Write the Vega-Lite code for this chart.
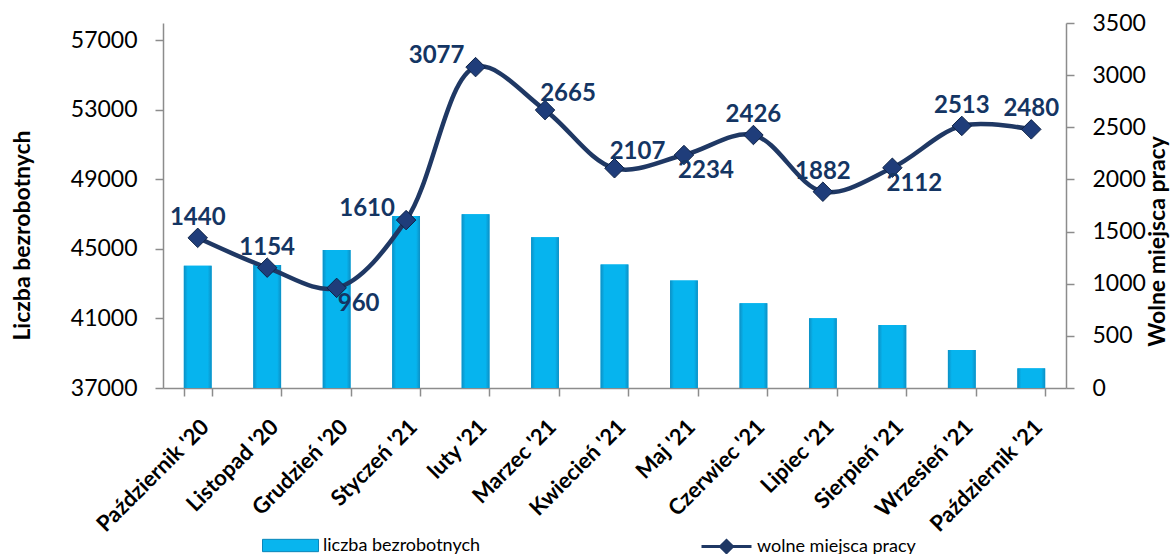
{
  "$schema": "https://vega.github.io/schema/vega-lite/v6.json",
  "autosize": {"type": "none"},
  "width": 903,
  "height": 365,
  "padding": {"left": 163, "top": 23, "right": 104, "bottom": 166},
  "background": "white",
  "config": {
    "font": "Lato",
    "view": {"stroke": null},
    "axis": {
      "domainColor": "#8C8C8C",
      "domainWidth": 1.5,
      "tickColor": "#8C8C8C",
      "tickWidth": 1.5,
      "tickSize": 8,
      "labelColor": "#000000",
      "titleColor": "#000000",
      "grid": false
    }
  },
  "data": {
    "values": [
      {"month": "Październik '20", "unemployed": 44040, "vacancies": 1440},
      {"month": "Listopad '20", "unemployed": 44080, "vacancies": 1154},
      {"month": "Grudzień '20", "unemployed": 44940, "vacancies": 960},
      {"month": "Styczeń '21", "unemployed": 46900, "vacancies": 1610},
      {"month": "luty '21", "unemployed": 47000, "vacancies": 3077},
      {"month": "Marzec '21", "unemployed": 45670, "vacancies": 2665},
      {"month": "Kwiecień '21", "unemployed": 44110, "vacancies": 2107},
      {"month": "Maj '21", "unemployed": 43190, "vacancies": 2234},
      {"month": "Czerwiec '21", "unemployed": 41870, "vacancies": 2426},
      {"month": "Lipiec '21", "unemployed": 41010, "vacancies": 1882},
      {"month": "Sierpień '21", "unemployed": 40620, "vacancies": 2112},
      {"month": "Wrzesień '21", "unemployed": 39190, "vacancies": 2513},
      {"month": "Październik '21", "unemployed": 38130, "vacancies": 2480}
    ]
  },
  "encoding": {
    "x": {
      "field": "month",
      "type": "nominal",
      "sort": null,
      "scale": {"paddingInner": 0.6, "paddingOuter": 0.3},
      "axis": {
        "title": null,
        "labelAngle": -45,
        "labelFontSize": 22,
        "labelFontWeight": "bold",
        "labelPadding": 20,
        "tickBand": "extent"
      }
    }
  },
  "layer": [
    {
      "encoding": {
        "y": {
          "field": "unemployed",
          "type": "quantitative",
          "scale": {"domain": [37000, 58000], "zero": false, "nice": false},
          "axis": {
            "orient": "left",
            "values": [37000, 41000, 45000, 49000, 53000, 57000],
            "format": "d",
            "labelFontSize": 23,
            "labelPadding": 18,
            "title": "Liczba bezrobotnych",
            "titleFontSize": 23,
            "titleFontWeight": "bold",
            "titleAngle": -90,
            "titleX": -141,
            "titleY": 212,
            "titleAlign": "center",
            "titleBaseline": "middle"
          }
        },
        "y2": {"datum": 37000}
      },
      "layer": [
        {
          "mark": {"type": "bar"},
          "encoding": {
            "fill": {
              "datum": "liczba bezrobotnych",
              "scale": {"range": ["#08B5EE"]},
              "legend": {
                "orient": "none",
                "legendX": 99,
                "legendY": 494,
                "title": null,
                "padding": 0,
                "symbolType": "M-1,-0.22H1V0.22H-1Z",
                "symbolSize": 3136,
                "symbolStrokeColor": "#0A86BA",
                "symbolStrokeWidth": 1,
                "labelFontSize": 18,
                "labelColor": "#000000",
                "labelOffset": 4
              }
            }
          }
        },
        {
          "mark": {
            "type": "bar",
            "fill": {
              "gradient": "linear",
              "x1": 0, "y1": 0, "x2": 1, "y2": 0,
              "stops": [
                {"offset": 0, "color": "#0D8FC4"},
                {"offset": 0.14, "color": "#06B4EE"},
                {"offset": 0.86, "color": "#06B4EE"},
                {"offset": 1, "color": "#0D8FC4"}
              ]
            }
          }
        }
      ]
    },
    {
      "encoding": {
        "y": {
          "field": "vacancies",
          "type": "quantitative",
          "scale": {"domain": [0, 3500], "nice": false},
          "axis": {
            "orient": "right",
            "values": [0, 500, 1000, 1500, 2000, 2500, 3000, 3500],
            "format": "d",
            "labelFontSize": 23,
            "labelPadding": 18,
            "title": "Wolne miejsca pracy",
            "titleFontSize": 23,
            "titleFontWeight": "bold",
            "titleAngle": -90,
            "titleX": 91,
            "titleY": 218,
            "titleAlign": "center",
            "titleBaseline": "middle"
          }
        }
      },
      "layer": [
        {
          "mark": {"type": "line", "interpolate": "catmull-rom", "strokeWidth": 4.5},
          "encoding": {
            "stroke": {
              "datum": "wolne miejsca pracy",
              "scale": {"range": ["#1F3864"]},
              "legend": {
                "orient": "none",
                "legendX": 537,
                "legendY": 497,
                "title": null,
                "padding": 0,
                "symbolType": "M-1,0H1M-0.24,0L0,-0.24L0.24,0L0,0.24Z",
                "symbolSize": 2500,
                "symbolStrokeWidth": 3,
                "symbolFillColor": "#1F3864",
                "labelFontSize": 18,
                "labelColor": "#000000",
                "labelOffset": 4
              }
            }
          }
        },
        {
          "mark": {"type": "point", "shape": "diamond", "size": 380, "filled": true, "fill": "#1F3D7A", "stroke": "#0E2346", "strokeWidth": 1, "opacity": 1}
        },
        {
          "transform": [{"filter": {"field": "month", "oneOf": ["Październik '20", "Listopad '20", "Czerwiec '21", "Lipiec '21", "Wrzesień '21", "Październik '21"]}}],
          "mark": {"type": "text", "fontSize": 24, "fontWeight": "bold", "fill": "#143563", "dx": 0, "dy": -20, "align": "center", "baseline": "middle"},
          "encoding": {"text": {"field": "vacancies", "type": "quantitative", "format": "d"}}
        },
        {
          "transform": [{"filter": {"field": "month", "oneOf": ["Styczeń '21", "luty '21"]}}],
          "mark": {"type": "text", "fontSize": 24, "fontWeight": "bold", "fill": "#143563", "dx": -39, "dy": -11, "align": "center", "baseline": "middle"},
          "encoding": {"text": {"field": "vacancies", "type": "quantitative", "format": "d"}}
        },
        {
          "transform": [{"filter": {"field": "month", "oneOf": ["Marzec '21", "Kwiecień '21"]}}],
          "mark": {"type": "text", "fontSize": 24, "fontWeight": "bold", "fill": "#143563", "dx": 23, "dy": -16, "align": "center", "baseline": "middle"},
          "encoding": {"text": {"field": "vacancies", "type": "quantitative", "format": "d"}}
        },
        {
          "transform": [{"filter": {"field": "month", "oneOf": ["Grudzień '20", "Maj '21", "Sierpień '21"]}}],
          "mark": {"type": "text", "fontSize": 24, "fontWeight": "bold", "fill": "#143563", "dx": 22, "dy": 16, "align": "center", "baseline": "middle"},
          "encoding": {"text": {"field": "vacancies", "type": "quantitative", "format": "d"}}
        }
      ]
    }
  ],
  "resolve": {"scale": {"y": "independent"}}
}
